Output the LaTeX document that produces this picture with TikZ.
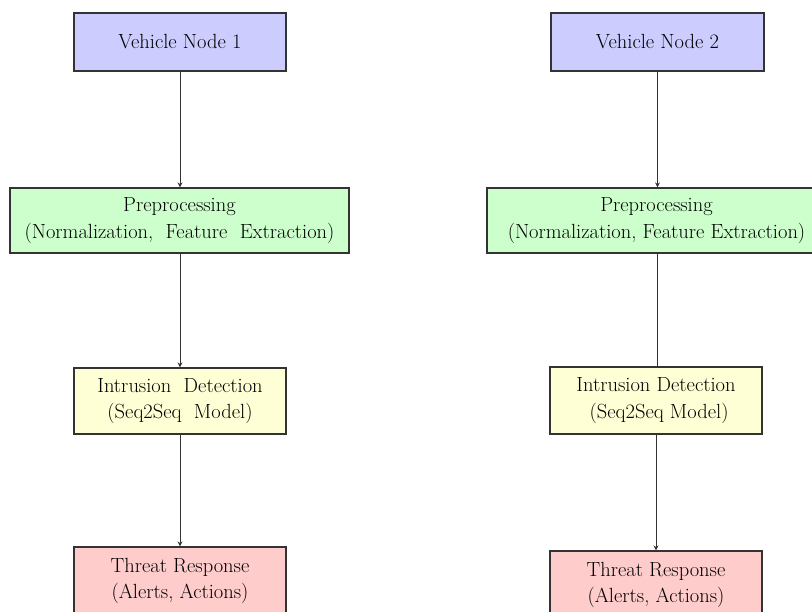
\documentclass[tikz,border=0pt]{standalone}
\usetikzlibrary{arrows.meta}
\definecolor{vblue}{HTML}{CCCCFF}
\definecolor{pgreen}{HTML}{CCFFCC}
\definecolor{iyellow}{HTML}{FFFFD6}
\definecolor{tpink}{HTML}{FFCCCC}
\definecolor{edge}{HTML}{333333}
\tikzset{
  box/.style={draw=edge, line width=1.2pt, inner sep=0pt, align=center,
    font=\fontsize{20.5}{26.5}\selectfont, text=black},
  conn/.style={draw=edge, line width=1pt, -{Stealth[length=5pt,width=5pt]}},
  plain/.style={draw=edge, line width=1pt}
}
\begin{document}
\begin{tikzpicture}[x=1pt,y=-1pt]
\useasboundingbox (0,0) rectangle (812,612);
\clip (0,0) rectangle (812,612);
\fill[white] (0,0) rectangle (812,612);
% left column
\node[box, fill=vblue, minimum width=212pt, minimum height=58pt] (v1) at (180,42) {Vehicle Node 1};
\node[box, fill=pgreen, minimum width=339pt, minimum height=65pt] (p1) at (179.5,220.5) {Preprocessing\\(Normalization,\ \ Feature\ \ Extraction)};
\node[box, fill=iyellow, minimum width=212pt, minimum height=66pt] (i1) at (180,401) {Intrusion\ \ Detection\\(Seq2Seq\ \ Model)};
\node[box, fill=tpink, minimum width=212pt, minimum height=68pt] (t1) at (180,581) {Threat Response\\(Alerts, Actions)};
% right column
\node[box, fill=vblue, minimum width=213pt, minimum height=58pt] (v2) at (657.5,42) {Vehicle Node 2};
\node[box, fill=pgreen, minimum width=339pt, minimum height=65pt] (p2) at (656.5,220.5) {Preprocessing\\(Normalization, Feature Extraction)};
\node[box, fill=iyellow, minimum width=212pt, minimum height=67pt] (i2) at (656,400.5) {Intrusion Detection\\\ (Seq2Seq Model)};
\node[box, fill=tpink, minimum width=212pt, minimum height=68pt] (t2) at (656,585) {Threat Response\\(Alerts, Actions)};
% connectors
\draw[conn] (v1.south) -- (p1.north -| v1.south);
\draw[conn] (p1.south -| v1.south) -- (i1.north);
\draw[conn] (i1.south) -- (t1.north);
\draw[conn] (v2.south) -- (p2.north -| v2.south);
\draw[plain] (p2.south -| v2.south) -- (i2.north -| v2.south);
\draw[conn] (i2.south) -- (t2.north);
\end{tikzpicture}
\end{document}
